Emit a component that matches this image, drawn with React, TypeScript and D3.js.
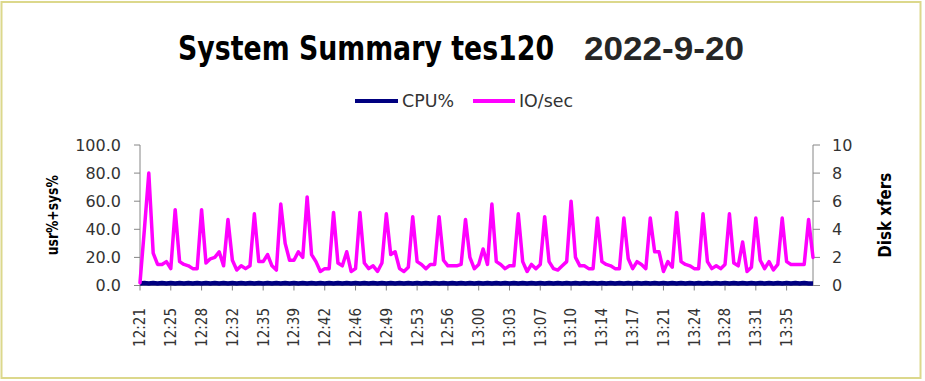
import React, { useLayoutEffect, useRef, useState } from "react";
import * as d3 from "d3";

const titleMain = "System Summary tes120";
const titleDate = "2022-9-20";
const seriesNames = ["CPU%", "IO/sec"];
const leftTicks = [0, 20, 40, 60, 80, 100];
const rightTicks = [0, 2, 4, 6, 8, 10];

// category labels shown every 7th sample (30 s samples)
const timeLabels = [
  "12:21", "12:25", "12:28", "12:32", "12:35", "12:39", "12:42", "12:46",
  "12:49", "12:53", "12:56", "13:00", "13:03", "13:07", "13:10", "13:14",
  "13:17", "13:21", "13:24", "13:28", "13:31", "13:35",
];
const labelEvery = 7;

// Disk xfers (IO/sec), right axis
const ioPerSec = [
  0.2, 4.0, 8.0, 2.3, 1.5, 1.5, 1.7, 1.2, 5.4, 1.7,
  1.5, 1.4, 1.2, 1.2, 5.4, 1.6, 1.9, 2.0, 2.4, 1.4,
  4.7, 1.8, 1.1, 1.4, 1.2, 1.4, 5.1, 1.7, 1.7, 2.2,
  1.4, 1.1, 5.8, 3.0, 1.8, 1.8, 2.4, 2.0, 6.3, 2.2,
  1.7, 1.0, 1.2, 1.2, 5.2, 1.6, 1.4, 2.4, 1.0, 1.2,
  5.2, 1.6, 1.2, 1.4, 1.0, 1.6, 5.1, 2.2, 2.4, 1.2,
  1.0, 1.3, 4.9, 1.7, 1.5, 1.2, 1.5, 1.5, 4.9, 1.8,
  1.4, 1.4, 1.4, 1.5, 4.7, 2.0, 1.2, 1.5, 2.6, 1.5,
  5.8, 1.7, 1.5, 1.2, 1.4, 1.4, 5.1, 1.7, 1.0, 1.5,
  1.2, 1.5, 4.9, 1.7, 1.2, 1.1, 1.4, 1.7, 6.0, 2.0,
  1.4, 1.4, 1.2, 1.2, 4.8, 1.7, 1.5, 1.4, 1.2, 1.2,
  4.8, 1.9, 1.2, 1.7, 1.5, 1.2, 4.8, 2.4, 2.4, 1.0,
  1.7, 1.3, 5.2, 1.7, 1.5, 1.4, 1.2, 1.2, 5.1, 1.7,
  1.2, 1.4, 1.2, 1.5, 5.1, 1.6, 1.4, 3.1, 1.0, 1.3,
  4.8, 1.8, 1.2, 1.7, 1.1, 1.5, 4.8, 1.7, 1.5, 1.5,
  1.5, 1.5, 4.7, 2.0,
];

// usr%+sys% (CPU%), left axis
const cpuPct = [
  1.4, 1.8, 1.5, 1.8, 1.5, 1.8, 1.5, 1.8, 1.5, 1.8,
  1.5, 1.8, 1.5, 1.8, 1.5, 1.8, 1.5, 1.8, 1.5, 1.8,
  1.5, 1.8, 1.5, 1.8, 1.5, 1.8, 1.5, 1.8, 1.5, 1.8,
  1.5, 1.8, 1.5, 1.8, 1.5, 1.8, 1.5, 1.8, 1.5, 1.8,
  1.5, 1.8, 1.5, 1.8, 1.5, 1.8, 1.5, 1.8, 1.5, 1.8,
  1.5, 1.8, 1.5, 1.8, 1.5, 1.8, 1.5, 1.8, 1.5, 1.8,
  1.5, 1.8, 1.5, 1.8, 1.5, 1.8, 1.5, 1.8, 1.5, 1.8,
  1.5, 1.8, 1.5, 1.8, 1.5, 1.8, 1.5, 1.8, 1.5, 1.8,
  1.5, 1.8, 1.5, 1.8, 1.5, 1.8, 1.5, 1.8, 1.5, 1.8,
  1.5, 1.8, 1.5, 1.8, 1.5, 1.8, 1.5, 1.8, 1.5, 1.8,
  1.5, 1.8, 1.5, 1.8, 1.5, 1.8, 1.5, 1.8, 1.5, 1.8,
  1.5, 1.8, 1.5, 1.8, 1.5, 1.8, 1.5, 1.8, 1.5, 1.8,
  1.5, 1.8, 1.5, 1.8, 1.5, 1.8, 1.5, 1.8, 1.5, 1.8,
  1.5, 1.8, 1.5, 1.8, 1.5, 1.8, 1.5, 1.8, 1.5, 1.8,
  1.5, 1.8, 1.5, 1.8, 1.5, 1.8, 1.5, 1.8, 1.5, 1.8,
  1.5, 1.8, 1.5, 1.4,
];

const W = 925;
const H = 381;
const plot = { left: 140, right: 813, top: 145, bottom: 285.5 };
const axisColor = "#868686";
const textColor = "#333333";
const cpuColor = "#000080";
const ioColor = "#FF00FF";
const condensed = "'DejaVu Sans Condensed', 'DejaVu Sans', sans-serif";
const regular = "'DejaVu Sans', Verdana, sans-serif";

export default function App() {
  const titleRef = useRef<SVGTextElement>(null);
  const [titleScale, setTitleScale] = useState(0.88);
  const titleWidth = 376;

  useLayoutEffect(() => {
    const el = titleRef.current;
    if (el) {
      const len = el.getComputedTextLength();
      if (len > 0) setTitleScale(titleWidth / len);
    }
  }, []);

  const n = ioPerSec.length;
  const x = d3.scaleLinear().domain([0, n - 1]).range([plot.left, plot.right]);
  const yL = d3.scaleLinear().domain([0, 100]).range([plot.bottom, plot.top]);
  const yR = d3.scaleLinear().domain([0, 10]).range([plot.bottom, plot.top]);

  const ioLine = d3
    .line<number>()
    .x((_, i) => x(i))
    .y((d) => yR(d));
  const cpuLine = d3
    .line<number>()
    .x((_, i) => x(i))
    .y((d) => yL(d));

  const labelPos = timeLabels.map((t, k) => ({ t, i: k * labelEvery }));
  const midY = (plot.top + plot.bottom) / 2;

  return (
    <svg
      width={W}
      height={H}
      style={{ position: "absolute", left: 0, top: 0, background: "#fff" }}
    >
      <rect x={0} y={0} width={W} height={H} fill="#fff" />
      <rect
        x={1.5}
        y={2}
        width={919}
        height={376}
        fill="none"
        stroke="#dcd88c"
        strokeWidth={2}
      />

      {/* Title */}
      <text
        ref={titleRef}
        transform={`translate(178, 60) scale(${titleScale}, 1)`}
        fontFamily={condensed}
        fontWeight="bold"
        fontSize={34}
        fill="#000"
      >
        {titleMain}
      </text>
      <text
        x={584}
        y={60}
        fontFamily="'Liberation Sans', Arial, sans-serif"
        fontWeight="bold"
        fontSize={34}
        fill="#262626"
        textLength={160}
        lengthAdjust="spacingAndGlyphs"
      >
        {titleDate}
      </text>

      {/* Legend */}
      <line x1={355} x2={398} y1={101} y2={101} stroke={cpuColor} strokeWidth={4} />
      <text
        x={402}
        y={107}
        fontFamily={condensed}
        fontSize={17}
        fill={textColor}
        textLength={52}
        lengthAdjust="spacingAndGlyphs"
      >
        {seriesNames[0]}
      </text>
      <line x1={473} x2={515} y1={101} y2={101} stroke={ioColor} strokeWidth={4} />
      <text
        x={519}
        y={107}
        fontFamily={condensed}
        fontSize={17}
        fill={textColor}
        textLength={54}
        lengthAdjust="spacingAndGlyphs"
      >
        {seriesNames[1]}
      </text>

      {/* Left axis */}
      <line
        x1={plot.left}
        x2={plot.left}
        y1={plot.top}
        y2={plot.bottom}
        stroke={axisColor}
        strokeWidth={1}
      />
      {leftTicks.map((v) => (
        <g key={"l" + v}>
          <line
            x1={plot.left - 6}
            x2={plot.left}
            y1={yL(v)}
            y2={yL(v)}
            stroke={axisColor}
          />
          <text
            x={121}
            y={yL(v)}
            dy="0.36em"
            textAnchor="end"
            fontFamily={regular}
            fontSize={16}
            fill={textColor}
          >
            {v.toFixed(1)}
          </text>
        </g>
      ))}
      <text
        transform={`translate(52, ${midY}) rotate(-90)`}
        dy="0.36em"
        textAnchor="middle"
        fontFamily={condensed}
        fontWeight="bold"
        fontSize={16}
        fill="#000"
        textLength={80}
        lengthAdjust="spacingAndGlyphs"
      >
        usr%+sys%
      </text>

      {/* Right axis */}
      <line
        x1={plot.right}
        x2={plot.right}
        y1={plot.top}
        y2={plot.bottom}
        stroke={axisColor}
        strokeWidth={1}
      />
      {rightTicks.map((v) => (
        <g key={"r" + v}>
          <line
            x1={plot.right}
            x2={plot.right + 7}
            y1={yR(v)}
            y2={yR(v)}
            stroke={axisColor}
          />
          <text
            x={832}
            y={yR(v)}
            dy="0.36em"
            textAnchor="start"
            fontFamily={regular}
            fontSize={16}
            fill={textColor}
          >
            {v}
          </text>
        </g>
      ))}
      <text
        transform={`translate(885, ${midY}) rotate(-90)`}
        dy="0.36em"
        textAnchor="middle"
        fontFamily={condensed}
        fontWeight="bold"
        fontSize={17}
        fill="#000"
        textLength={85}
        lengthAdjust="spacingAndGlyphs"
      >
        Disk xfers
      </text>

      {/* Bottom axis */}
      <line
        x1={plot.left}
        x2={plot.right}
        y1={plot.bottom}
        y2={plot.bottom}
        stroke={axisColor}
      />
      {labelPos.map(({ t, i }) => (
        <g key={"x" + i}>
          <line
            x1={x(i)}
            x2={x(i)}
            y1={plot.bottom}
            y2={plot.bottom + 5}
            stroke={axisColor}
          />
          <text
            transform={`translate(${x(i)}, 308) rotate(-90)`}
            dy="0.36em"
            textAnchor="end"
            fontFamily={condensed}
            fontSize={15}
            fill={textColor}
          >
            {t}
          </text>
        </g>
      ))}

      {/* Series */}
      <path
        d={cpuLine(cpuPct) || ""}
        fill="none"
        stroke={cpuColor}
        strokeWidth={4.5}
        strokeLinejoin="round"
      />
      <path
        d={ioLine(ioPerSec) || ""}
        fill="none"
        stroke={ioColor}
        strokeWidth={3.5}
        strokeLinejoin="round"
        strokeLinecap="round"
      />
    </svg>
  );
}
